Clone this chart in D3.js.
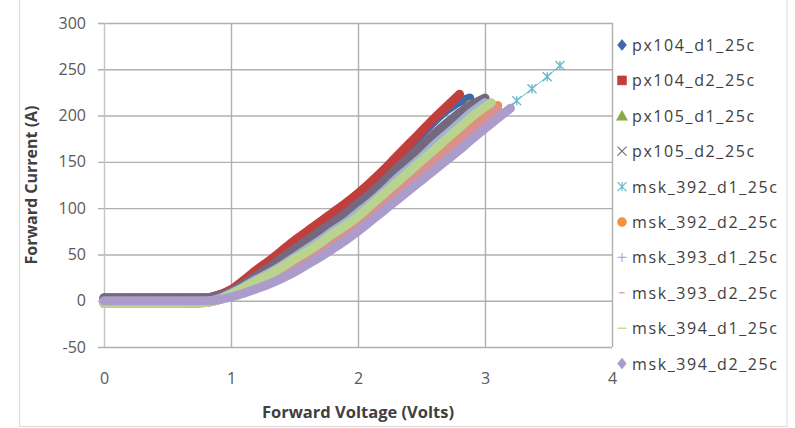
<!DOCTYPE html>
<html>
<head>
<meta charset="utf-8">
<script src="https://cdn.jsdelivr.net/npm/d3@7"></script>
<style>
  body { margin: 0; background: #fff; }
  .tick text { font-family: "Open Sans", sans-serif; fill: #595959; }
  .axis-title { font-family: "Open Sans", sans-serif; font-weight: bold; fill: #404040; }
  .legend text { font-family: "Open Sans", sans-serif; fill: #404040; }
</style>
</head>
<body>
<div id="chart"></div>
<script>
// setting up constants
const FRAME_WIDTH = 795;
const FRAME_HEIGHT = 428;
const MARGINS = {left: 104, right: 183, top: 23, bottom: 81};

const VIS_WIDTH = FRAME_WIDTH - MARGINS.left - MARGINS.right;
const VIS_HEIGHT = FRAME_HEIGHT - MARGINS.top - MARGINS.bottom;

// tick values
const X_TICKS = [0, 1, 2, 3, 4];
const Y_TICKS = [-50, 0, 50, 100, 150, 200, 250, 300];

// series names (legend order = draw order)
const SERIES_NAMES = ["px104_d1_25c", "px104_d2_25c", "px105_d1_25c", "px105_d2_25c",
  "msk_392_d1_25c", "msk_392_d2_25c", "msk_393_d1_25c", "msk_393_d2_25c",
  "msk_394_d1_25c", "msk_394_d2_25c"];

// data: [forward voltage (V), forward current (A)]
const PX104_D1 = [[0, 3], [0.2, 3], [0.4, 3], [0.6, 3], [0.8, 3], [0.9, 6], [1.0, 11], [1.1, 20],
  [1.2, 30], [1.3, 40], [1.4, 51], [1.5, 62], [1.6, 72], [1.7, 82], [1.8, 92], [1.9, 102], [2.0, 113],
  [2.1, 125], [2.2, 138], [2.3, 152], [2.4, 166], [2.5, 180], [2.6, 194], [2.7, 206], [2.8, 215], [2.88, 219]];
const PX104_D2 = [[0, 3], [0.2, 3], [0.4, 3], [0.6, 3], [0.8, 3], [0.9, 6], [1.0, 12], [1.1, 22],
  [1.2, 33], [1.3, 43], [1.4, 54], [1.5, 65], [1.6, 75], [1.7, 85], [1.8, 95], [1.9, 105], [2.0, 116],
  [2.1, 128], [2.2, 141], [2.3, 155], [2.4, 169], [2.5, 183], [2.6, 197], [2.7, 210], [2.8, 223]];
const PX105_D1 = [[0, 2], [0.2, 2], [0.4, 2], [0.6, 2], [0.8, 2], [0.9, 4], [1.0, 9], [1.1, 16],
  [1.2, 25], [1.3, 33], [1.4, 41], [1.5, 51], [1.6, 60], [1.7, 69], [1.8, 79], [1.9, 88], [2.0, 99],
  [2.1, 110], [2.2, 123], [2.3, 135], [2.4, 148], [2.5, 161], [2.6, 173], [2.7, 186], [2.8, 198], [2.88, 212]];
const PX105_D2 = [[0, 3], [0.2, 3], [0.4, 3], [0.6, 3], [0.8, 3], [0.9, 5], [1.0, 10], [1.1, 18],
  [1.2, 27], [1.3, 36], [1.4, 46], [1.5, 56], [1.6, 65], [1.7, 75], [1.8, 84], [1.9, 94], [2.0, 105],
  [2.1, 116], [2.2, 129], [2.3, 142], [2.4, 155], [2.5, 167], [2.6, 180], [2.7, 192], [2.8, 203], [2.9, 212], [3.0, 219]];
const MSK_392_D1 = [[0, -2], [0.2, -2], [0.4, -2], [0.6, -2], [0.8, -1], [0.9, 1], [1.0, 5], [1.1, 9],
  [1.2, 14], [1.3, 20], [1.4, 26], [1.5, 33], [1.6, 42], [1.7, 50], [1.8, 59], [1.9, 68], [2.0, 78],
  [2.1, 89], [2.2, 100], [2.3, 111], [2.4, 123], [2.5, 134], [2.6, 145], [2.7, 156], [2.8, 167], [2.9, 179],
  [3.0, 190], [3.1, 202], [3.25, 216], [3.37, 229], [3.49, 242], [3.59, 254]];
const MSK_392_D2 = [[0, -3], [0.2, -3], [0.4, -3], [0.6, -3], [0.8, -2], [0.9, 1], [1.0, 6], [1.1, 11],
  [1.2, 17], [1.3, 24], [1.4, 31], [1.5, 38], [1.6, 47], [1.7, 55], [1.8, 65], [1.9, 74], [2.0, 84],
  [2.1, 95], [2.2, 107], [2.3, 118], [2.4, 130], [2.5, 142], [2.6, 153], [2.7, 165], [2.8, 176], [2.9, 188],
  [3.0, 200], [3.1, 211]];
const MSK_393_D1 = [[0, -2], [0.2, -2], [0.4, -2], [0.6, -2], [0.8, -1], [0.9, 2], [1.0, 8], [1.1, 15],
  [1.2, 23], [1.3, 30], [1.4, 38], [1.5, 47], [1.6, 56], [1.7, 65], [1.8, 75], [1.9, 84], [2.0, 95],
  [2.1, 106], [2.2, 118], [2.3, 131], [2.4, 143], [2.5, 155], [2.6, 168], [2.7, 180], [2.8, 192], [2.9, 204], [3.0, 214]];
const MSK_393_D2 = [[0, -3], [0.2, -3], [0.4, -3], [0.6, -3], [0.8, -2], [0.9, 1], [1.0, 5], [1.1, 10],
  [1.2, 16], [1.3, 22], [1.4, 29], [1.5, 36], [1.6, 45], [1.7, 53], [1.8, 62], [1.9, 71], [2.0, 82],
  [2.1, 93], [2.2, 104], [2.3, 115], [2.4, 127], [2.5, 139], [2.6, 150], [2.7, 161], [2.8, 173], [2.9, 185],
  [3.0, 196], [3.1, 207]];
const MSK_394_D1 = [[0, -3], [0.2, -3], [0.4, -3], [0.6, -3], [0.8, -2], [0.9, 1], [1.0, 7], [1.1, 14],
  [1.2, 21], [1.3, 28], [1.4, 36], [1.5, 45], [1.6, 53], [1.7, 62], [1.8, 72], [1.9, 81], [2.0, 91],
  [2.1, 103], [2.2, 115], [2.3, 127], [2.4, 139], [2.5, 151], [2.6, 163], [2.7, 175], [2.8, 187], [2.9, 199], [3.05, 214]];
const MSK_394_D2 = [[0, 0], [0.2, 0], [0.4, 0], [0.6, 0], [0.8, 0], [0.9, 1], [1.0, 4], [1.1, 8],
  [1.2, 13], [1.3, 18], [1.4, 24], [1.5, 31], [1.6, 39], [1.7, 47], [1.8, 56], [1.9, 65], [2.0, 75],
  [2.1, 86], [2.2, 97], [2.3, 108], [2.4, 119], [2.5, 130], [2.6, 141], [2.7, 152], [2.8, 163],
  [2.9, 175], [3.0, 186], [3.1, 197], [3.2, 208]];

const SERIES_DATA = [PX104_D1, PX104_D2, PX105_D1, PX105_D2, MSK_392_D1,
  MSK_392_D2, MSK_393_D1, MSK_393_D2, MSK_394_D1, MSK_394_D2];

// styles per series (colour, marker, where the dense band stops)
const STYLES = [
  {color: "#3f69a8", marker: "diamond"},
  {color: "#c03f3d", marker: "square"},
  {color: "#89a84a", marker: "triangle"},
  {color: "#76687f", marker: "x"},
  {color: "#6db8cc", marker: "asterisk", bandTo: 3.1},
  {color: "#f0913e", marker: "circle"},
  {color: "#9fb3d4", marker: "plus"},
  {color: "#d9918f", marker: "dash"},
  {color: "#bad38f", marker: "longdash"},
  {color: "#ab9ccb", marker: "diamond"}
];

const BAND_WIDTH = 9;

// setting up frame
const FRAME = d3.select("#chart")
  .append("svg")
  .attr("width", FRAME_WIDTH)
  .attr("height", FRAME_HEIGHT);

// chart area border
FRAME.append("rect")
  .attr("x", 19.5)
  .attr("y", -1)
  .attr("width", 767.5)
  .attr("height", 427.5)
  .attr("fill", "none")
  .attr("stroke", "#d9d9d9");

// scales
const xScale = d3.scaleLinear()
  .domain([0, 4])
  .range([0, VIS_WIDTH]);
const yScale = d3.scaleLinear()
  .domain([-50, 300])
  .range([VIS_HEIGHT, 0]);

// horizontal gridlines (extend 6px left as tick marks)
FRAME.append("g")
  .attr("transform", "translate(" + (MARGINS.left - 6) + "," + MARGINS.top + ")")
  .call(d3.axisLeft(yScale).tickValues(Y_TICKS).tickSize(-(VIS_WIDTH + 6)).tickFormat(""))
  .call(g => g.select(".domain").remove())
  .selectAll("line")
  .attr("stroke", "#b0b0b0")
  .attr("stroke-width", 1.4);

// vertical gridlines
FRAME.append("g")
  .attr("transform", "translate(" + MARGINS.left + "," + MARGINS.top + ")")
  .call(d3.axisBottom(xScale).tickValues(X_TICKS).tickSize(VIS_HEIGHT).tickFormat(""))
  .call(g => g.select(".domain").remove())
  .selectAll("line")
  .attr("stroke", (d) => d === 0 ? "#c4c4c4" : "#b0b0b0")
  .attr("stroke-width", 1.4);

// y-axis labels
FRAME.append("g")
  .attr("transform", "translate(" + MARGINS.left + "," + MARGINS.top + ")")
  .call(d3.axisLeft(yScale).tickValues(Y_TICKS).tickSize(0).tickPadding(18).tickFormat((d) => String(d)))
  .call(g => g.select(".domain").remove())
  .selectAll("text")
  .attr("font-size", "16px");

// x-axis labels
FRAME.append("g")
  .attr("transform", "translate(" + MARGINS.left + "," + (MARGINS.top + VIS_HEIGHT) + ")")
  .call(d3.axisBottom(xScale).tickValues(X_TICKS).tickSize(0).tickPadding(26).tickFormat((d) => String(d)))
  .call(g => g.select(".domain").remove())
  .selectAll("text")
  .attr("font-size", "16px");

// axis titles
FRAME.append("text")
  .attr("class", "axis-title")
  .attr("x", MARGINS.left + VIS_WIDTH / 2)
  .attr("y", 418)
  .attr("text-anchor", "middle")
  .attr("font-size", "16.5px")
  .text("Forward Voltage (Volts)");

FRAME.append("text")
  .attr("class", "axis-title")
  .attr("transform", "translate(37," + (MARGINS.top + VIS_HEIGHT / 2) + ") rotate(-90)")
  .attr("text-anchor", "middle")
  .attr("font-size", "16px")
  .text("Forward Current (A)");

// marker path generator
function markerPath(type, s) {
  const h = s / 2;
  switch (type) {
    case "diamond": return "M0," + (-h - 1) + "L" + h + ",0L0," + (h + 1) + "L" + (-h) + ",0Z";
    case "square": return "M" + (-h) + "," + (-h) + "h" + s + "v" + s + "h" + (-s) + "Z";
    case "triangle": return "M0," + (-h - 1) + "L" + (h + 1) + "," + h + "L" + (-h - 1) + "," + h + "Z";
    case "circle": return d3.symbol(d3.symbolCircle, s * s * 0.8)();
    case "x": return "M" + (-h) + "," + (-h) + "L" + h + "," + h + "M" + (-h) + "," + h + "L" + h + "," + (-h);
    case "plus": return "M" + (-h) + ",0H" + h + "M0," + (-h) + "V" + h;
    case "asterisk": return "M" + (-h) + "," + (-h) + "L" + h + "," + h + "M" + (-h) + "," + h + "L" + h + "," + (-h) + "M0," + (-h) + "V" + h;
    case "dash": return "M" + (-h * 0.6) + ",0H" + (h * 0.6);
    case "longdash": return "M" + (-h) + ",0H" + h;
  }
}
const STROKE_MARKERS = ["x", "plus", "asterisk", "dash", "longdash"];

// plot group
const PLOT = FRAME.append("g")
  .attr("transform", "translate(" + MARGINS.left + "," + MARGINS.top + ")");

const line = d3.line()
  .x((d) => xScale(d[0]))
  .y((d) => yScale(d[1]))
  .curve(d3.curveMonotoneX);

SERIES_DATA.forEach((data, i) => {
  const st = STYLES[i];
  const bandTo = st.bandTo === undefined ? Infinity : st.bandTo;
  const dense = data.filter((d) => d[0] <= bandTo);
  const sparse = data.filter((d) => d[0] >= bandTo);
  const isStroke = STROKE_MARKERS.includes(st.marker);

  // dense band of overlapping markers
  PLOT.append("path")
    .datum(dense)
    .attr("d", line)
    .attr("fill", "none")
    .attr("stroke", st.color)
    .attr("stroke-width", BAND_WIDTH)
    .attr("stroke-linecap", "round")
    .attr("stroke-linejoin", "round");

  // markers inside the band
  PLOT.selectAll(".m" + i)
    .data(dense)
    .enter()
    .append("path")
    .attr("class", "m" + i)
    .attr("transform", (d) => "translate(" + xScale(d[0]) + "," + yScale(d[1]) + ")")
    .attr("d", markerPath(st.marker, 6))
    .attr("fill", isStroke ? "none" : st.color)
    .attr("stroke", st.color)
    .attr("stroke-width", isStroke ? 1.4 : 0);

  // sparse tail: thin connecting line with full-size markers
  if (sparse.length > 1) {
    PLOT.append("path")
      .datum(sparse)
      .attr("d", d3.line().x((d) => xScale(d[0])).y((d) => yScale(d[1])))
      .attr("fill", "none")
      .attr("stroke", st.color)
      .attr("stroke-width", 1);

    PLOT.selectAll(".t" + i)
      .data(sparse.slice(1))
      .enter()
      .append("path")
      .attr("class", "t" + i)
      .attr("transform", (d) => "translate(" + xScale(d[0]) + "," + yScale(d[1]) + ")")
      .attr("d", markerPath(st.marker, 9))
      .attr("fill", "none")
      .attr("stroke", st.color)
      .attr("stroke-width", 1.4);
  }
});

// legend
const LEGEND = FRAME.append("g").attr("class", "legend");
const legendRows = LEGEND.selectAll("g")
  .data(SERIES_NAMES)
  .enter()
  .append("g")
  .attr("transform", (d, i) => "translate(622," + (45 + i * 35.4) + ")");

legendRows.append("path")
  .attr("d", (d, i) => markerPath(STYLES[i].marker, 9))
  .attr("fill", (d, i) => STROKE_MARKERS.includes(STYLES[i].marker) ? "none" : STYLES[i].color)
  .attr("stroke", (d, i) => STYLES[i].color)
  .attr("stroke-width", (d, i) => STROKE_MARKERS.includes(STYLES[i].marker) ? 1.2 : 0.5);

legendRows.append("text")
  .attr("x", 10)
  .attr("y", 6)
  .attr("font-size", "16px")
  .attr("letter-spacing", "1.6px")
  .text((d) => d);
</script>
</body>
</html>
